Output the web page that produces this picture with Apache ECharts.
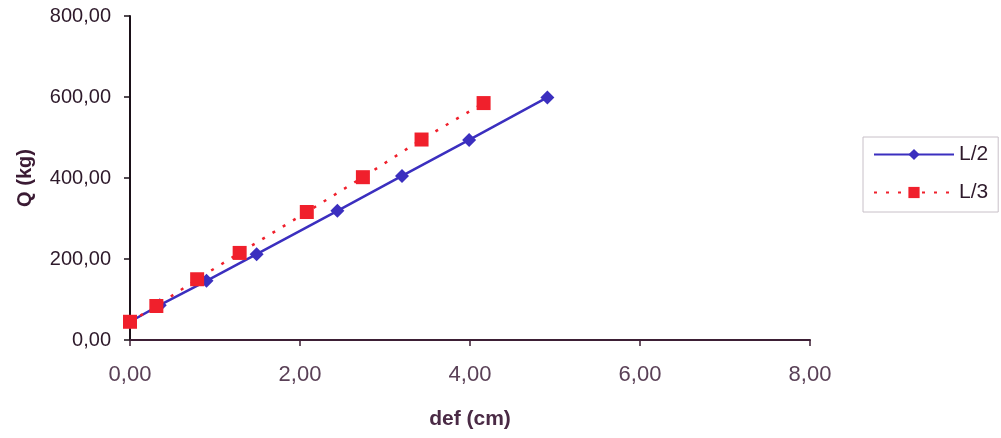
<!DOCTYPE html>
<html><head><meta charset="utf-8">
<script src="https://cdn.jsdelivr.net/npm/echarts@6/dist/echarts.min.js"></script>
<style>html,body{margin:0;padding:0;background:#fff}#c{width:1001px;height:438px}</style>
</head><body><div id="c"></div>
<script>
const defL2 = [0, 0.35, 0.90, 1.49, 2.44, 3.20, 3.99, 4.91];
const qL2   = [45, 86, 146, 212, 319, 405, 494, 599];
const defL3 = [0, 0.31, 0.79, 1.29, 2.08, 2.74, 3.43, 4.16];
const qL3   = [45, 84, 150, 215, 316, 402, 495, 585];
const seriesNames = ['L/2', 'L/3'];
const xTitle = 'def (cm)';
const yTitle = 'Q (kg)';

const fmt = v => v.toFixed(2).replace('.', ',');
const chart = echarts.init(document.getElementById('c'), null, {renderer: 'canvas'});
chart.setOption({
  animation: false,
  backgroundColor: '#fff',
  grid: {left: 130, right: 191, top: 16, bottom: 98, containLabel: false},
  xAxis: {
    type: 'value', min: 0, max: 8, interval: 2,
    name: xTitle, nameLocation: 'middle', nameGap: 69,
    nameTextStyle: {fontFamily: 'Liberation Sans', fontWeight: 'bold', fontSize: 21, color: '#4a2a45'},
    axisLine: {show: true, onZero: false, lineStyle: {color: '#3d1f35', width: 2}},
    axisTick: {show: true, length: 6, lineStyle: {color: '#3d1f35', width: 1.5}},
    splitLine: {show: false},
    axisLabel: {formatter: fmt, margin: 24, fontFamily: 'Liberation Sans', fontSize: 22, color: '#5a4157'}
  },
  yAxis: {
    type: 'value', min: 0, max: 800, interval: 200,
    name: yTitle, nameLocation: 'middle', nameGap: 95, nameRotate: 90,
    nameTextStyle: {fontFamily: 'Liberation Sans', fontWeight: 'bold', fontSize: 20, color: '#3a1a33'},
    axisLine: {show: true, onZero: false, lineStyle: {color: '#1a1018', width: 2}},
    axisTick: {show: true, length: 6, lineStyle: {color: '#1a1018', width: 1.5}},
    splitLine: {show: false},
    axisLabel: {formatter: fmt, margin: 19, fontFamily: 'Liberation Sans', fontSize: 20, color: '#2e1a2b'}
  },
  legend: {
    orient: 'vertical', left: 863, top: 137, width: 134,
    padding: [7, 10, 9, 10], itemGap: 17, itemWidth: 80, itemHeight: 14,
    borderColor: '#c8c0c8', borderWidth: 1,
    textStyle: {fontFamily: 'Liberation Sans', fontSize: 21, color: '#2e1a2b'},
    data: seriesNames
  },
  series: [
    {
      name: seriesNames[0], type: 'line',
      data: defL2.map((d, i) => [d, qL2[i]]),
      symbol: 'diamond', symbolSize: 14,
      lineStyle: {color: '#3b2fbf', width: 2.5},
      itemStyle: {color: '#3b2fbf'},
      z: 2
    },
    {
      name: seriesNames[1], type: 'line',
      data: defL3.map((d, i) => [d, qL3[i]]),
      symbol: 'rect', symbolSize: 14,
      lineStyle: {color: '#f0202c', width: 2.5, type: [3, 9]},
      itemStyle: {color: '#f0202c'},
      z: 3
    }
  ]
});
</script></body></html>
